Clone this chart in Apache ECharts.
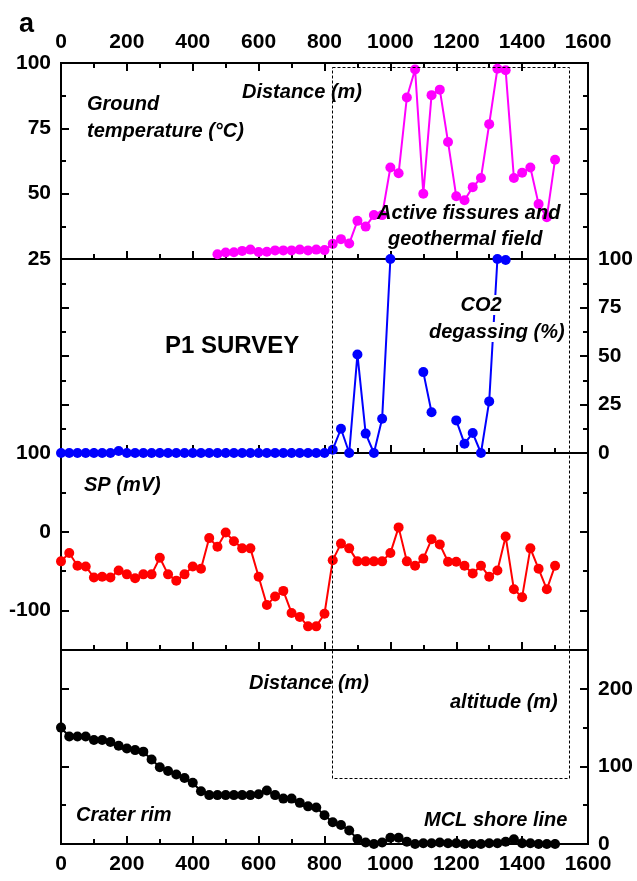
<!DOCTYPE html>
<html>
<head>
<meta charset="utf-8">
<script src="https://cdn.jsdelivr.net/npm/echarts@6/dist/echarts.min.js"></script>
<style>
html, body { margin: 0; padding: 0; background: #fff; }
#main { width: 637px; height: 881px; }
</style>
</head>
<body>
<div id="main"></div>
<script>
// distance along the P1 profile (m)
var distance = [0, 25, 50, 75, 100, 125, 150, 175, 200, 225,
    250, 275, 300, 325, 350, 375, 400, 425, 450, 475,
    500, 525, 550, 575, 600, 625, 650, 675, 700, 725,
    750, 775, 800, 825, 850, 875, 900, 925, 950, 975,
    1000, 1025, 1050, 1075, 1100, 1125, 1150, 1175, 1200, 1225,
    1250, 1275, 1300, 1325, 1350, 1375, 1400, 1425, 1450, 1475,
    1500];

// ground temperature (°C), no reading before 475 m
var temperature = [null, null, null, null, null, null, null, null, null, null,
    null, null, null, null, null, null, null, null, null, 26.8,
    27.5, 27.6, 28.1, 28.6, 27.7, 27.8, 28.3, 28.3, 28.3, 28.6,
    28.3, 28.6, 28.4, 30.8, 32.6, 30.9, 39.6, 37.4, 41.8, 41.8,
    60, 57.8, 86.8, 97.5, 50, 87.7, 89.8, 69.8, 49, 47.5,
    52.5, 56, 76.6, 97.8, 97.2, 56, 58, 60, 46, 41,
    63];

// CO2 degassing (%)
var co2 = [0, 0, 0, 0, 0, 0, 0, 1, 0, 0,
    0, 0, 0, 0, 0, 0, 0, 0, 0, 0,
    0, 0, 0, 0, 0, 0, 0, 0, 0, 0,
    0, 0, 0, 1.7, 12.5, 0, 50.8, 10, 0, 17.7,
    100, null, null, null, 41.7, 21, null, null, 16.8, 4.8,
    10.3, 0, 26.6, 100, 99.5, null, null, null, null, null,
    null];

// self potential (mV)
var sp = [-37.5, -27, -43, -44, -58, -57, -58, -49, -54, -59,
    -54, -54, -33, -54, -62, -54, -44, -47, -8, -19,
    -1, -12, -21, -21, -57, -93, -82, -75, -103, -108,
    -120, -120, -104, -36, -15, -21, -37.5, -37.5, -37.5, -37.5,
    -27, 5.6, -37.5, -43, -34, -9.5, -16, -38, -38, -43,
    -53, -43, -57, -49, -6, -73, -83, -21, -47, -73,
    -43];

// altitude (m)
var altitude = [150, 138.5, 138.5, 138.5, 134, 134, 131.5, 126.5, 123, 121,
    119, 109, 99, 94, 89.5, 85, 79, 68, 63, 63,
    63, 63, 63, 63, 64, 69, 63, 58.5, 58.5, 53,
    48.5, 47, 37, 28, 24.5, 17.5, 6.5, 2, 0, 2,
    8, 8, 3, 0, 1, 1, 2, 1, 1, 0,
    0, 0, 1, 1, 3, 6, 1, 1, 0, 0,
    0];

// dashed box: distance from/to, temperature top, altitude bottom
var boxDistance = [823, 1542];
var boxTemp = 98.5;
var boxAltitude = 85;

var font = '"Liberation Sans", Arial, sans-serif';

var myChart = echarts.init(document.getElementById('main'));

function pairs(vals) {
    return distance.map(function (d, i) { return [d, vals[i]]; });
}

var tickStyle = { color: '#000', width: 2 };
var labelStyle = { color: '#000', fontSize: 21, fontWeight: 'bold', fontFamily: font };

function plain(v) { return String(v); }

function xAx(g, pos, showLabel, showTick) {
    return {
        type: 'value', gridIndex: g, position: pos,
        min: 0, max: 1600, interval: 200,
        axisLine: { show: false, onZero: false },
        splitLine: { show: false },
        axisTick: { show: showTick, inside: true, length: 8, lineStyle: tickStyle },
        minorTick: { show: showTick, splitNumber: 2, length: 5, lineStyle: tickStyle },
        axisLabel: Object.assign({ show: showLabel, margin: 10, formatter: plain }, labelStyle)
    };
}

function yAx(g, pos, min, max, majors, labels) {
    return {
        type: 'value', gridIndex: g, position: pos, min: min, max: max,
        axisLine: { show: false, onZero: false },
        splitLine: { show: false },
        axisTick: { inside: true, length: 8, customValues: majors, lineStyle: tickStyle },
        axisLabel: Object.assign({ show: labels.length > 0, customValues: labels, margin: 10, formatter: plain }, labelStyle)
    };
}

function yMinor(g, pos, min, max, minors) {
    return {
        type: 'value', gridIndex: g, position: pos, min: min, max: max,
        axisLine: { show: false, onZero: false },
        splitLine: { show: false },
        axisTick: { inside: true, length: 5, customValues: minors, lineStyle: tickStyle },
        axisLabel: { show: false }
    };
}

var panels = [
    { top: 63, height: 196, min: 25, max: 100, majors: [25, 50, 75, 100], minors: [37.5, 62.5, 87.5], left: [25, 50, 75, 100], right: [] },
    { top: 259, height: 194, min: 0, max: 100, majors: [0, 25, 50, 75, 100], minors: [12.5, 37.5, 62.5, 87.5], left: [], right: [0, 25, 50, 75, 100] },
    { top: 453, height: 197, min: -150, max: 100, majors: [-100, 0, 100], minors: [-50, 50], left: [-100, 0, 100], right: [] },
    { top: 650, height: 194, min: 0, max: 250, majors: [0, 100, 200], minors: [50, 150], left: [], right: [0, 100, 200] }
];

var grid = [], xAxis = [], yAxis = [];
panels.forEach(function (p, i) {
    grid.push({ left: 61, right: 49, top: p.top, height: p.height, show: true, borderColor: '#000', borderWidth: 2 });
    xAxis.push(xAx(i, 'bottom', i === 3, true));
    xAxis.push(xAx(i, 'top', i === 0, i === 0));
    yAxis.push(yAx(i, 'left', p.min, p.max, p.majors, p.left));
    yAxis.push(yAx(i, 'right', p.min, p.max, p.majors, p.right));
    yAxis.push(yMinor(i, 'left', p.min, p.max, p.minors));
    yAxis.push(yMinor(i, 'right', p.min, p.max, p.minors));
});

function lineSeries(name, vals, color, xi, yi) {
    return {
        name: name, type: 'line', xAxisIndex: xi, yAxisIndex: yi,
        data: pairs(vals), symbol: 'circle', symbolSize: 10, clip: false,
        connectNulls: false,
        lineStyle: { color: color, width: 2 },
        itemStyle: { color: color }
    };
}

var option = {
    animation: false,
    grid: grid,
    xAxis: xAxis,
    yAxis: yAxis,
    series: [
        lineSeries('Ground temperature', temperature, '#ff00ff', 0, 0),
        lineSeries('CO2 degassing', co2, '#0000ff', 2, 4),
        lineSeries('SP', sp, '#ff0000', 4, 8),
        lineSeries('altitude', altitude, '#000000', 6, 12)
    ]
};

myChart.setOption(option);

var italic = 'italic bold 20px ' + font;
function label(text, x, y, f, extra) {
    return {
        type: 'text', x: x, y: y, z: 100,
        style: Object.assign({ text: text, font: f || italic, fill: '#000', verticalAlign: 'middle', align: 'left' }, extra || {})
    };
}
var white = { backgroundColor: '#fff', padding: [0, 1] };

var p1 = myChart.convertToPixel({ xAxisIndex: 0, yAxisIndex: 0 }, [boxDistance[0], boxTemp]);
var p2 = myChart.convertToPixel({ xAxisIndex: 6, yAxisIndex: 12 }, [boxDistance[1], boxAltitude]);
var bx = Math.round(p1[0]) + 0.5, by = Math.round(p1[1]) + 0.5;
var bx2 = Math.round(p2[0]) + 0.5, by2 = Math.round(p2[1]) + 0.5;

myChart.setOption({
    graphic: [
        label('a', 19, 25, 'bold 27px ' + font),
        label('Ground', 87, 104),
        label('temperature (°C)', 87, 131),
        label('Distance (m)', 242, 92),
        label('Active fissures and', 377, 213),
        label('geothermal field', 388, 239),
        label('CO2', 481, 305, null, Object.assign({ align: 'center' }, white)),
        label('degassing (%)', 428, 332, null, white),
        label('P1 SURVEY', 165, 346, 'bold 24px ' + font),
        label('SP (mV)', 84, 485),
        label('Distance (m)', 249, 683),
        label('altitude (m)', 450, 702),
        label('Crater rim', 76, 815),
        label('MCL shore line', 424, 820),
        {
            type: 'rect', z: 110,
            shape: { x: bx, y: by, width: bx2 - bx, height: by2 - by },
            style: { fill: null, stroke: '#000', lineWidth: 1, lineDash: [3, 2] }
        }
    ]
});
</script>
</body>
</html>
